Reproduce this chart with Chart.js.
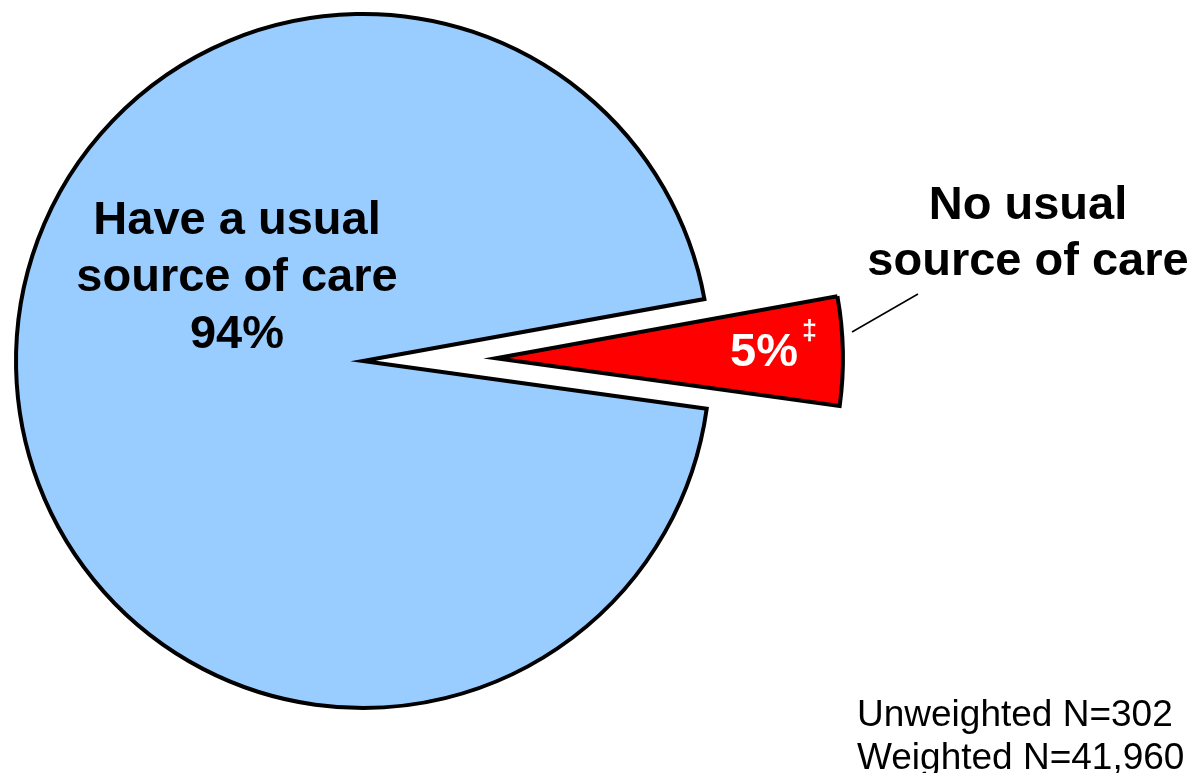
<!DOCTYPE html>
<html>
<head>
<meta charset="utf-8">
<script src="https://cdn.jsdelivr.net/npm/chart.js@4.4.1/dist/chart.umd.min.js"></script>
<style>
  html, body { margin: 0; padding: 0; background: #fff; }
  #wrap { width: 1196px; height: 773px; position: relative; overflow: hidden; }
</style>
</head>
<body>
<div id="wrap"><canvas id="pieChart" width="1196" height="773"></canvas></div>
<script>
// chart data
const categories = ['Have a usual source of care', 'No usual source of care'];
const percentValues = [94, 5];
const sliceLabels = [['Have a usual', 'source of care', '94%'], ['5%']];
const footnoteLines = ['Unweighted N=302', 'Weighted N=41,960'];

const FONT = '"Liberation Sans", Arial, Helvetica, sans-serif';
const EXPLODE = 133; // px the small slice is pulled out

// draw arcs ourselves so the small slice can be pulled out without resizing it
const explodePlugin = {
  id: 'explodeSlice',
  beforeDatasetDraw(chart, args) {
    const ctx = chart.ctx;
    const meta = args.meta;
    meta.data.forEach((arc, i) => {
      ctx.save();
      if (i === 1) {
        const mid = (arc.startAngle + arc.endAngle) / 2;
        ctx.translate(Math.cos(mid) * EXPLODE, Math.sin(mid) * EXPLODE);
      }
      arc.draw(ctx);
      ctx.restore();
    });
    return false;
  },
  afterDatasetsDraw(chart) {
    const ctx = chart.ctx;
    const meta = chart.getDatasetMeta(0);
    const big = meta.data[0];
    const cx = big.x, cy = big.y;

    ctx.save();
    ctx.fillStyle = '#000';
    ctx.textAlign = 'center';
    ctx.textBaseline = 'alphabetic';
    ctx.font = 'bold 47px ' + FONT;
    // big slice label
    sliceLabels[0].forEach((t, i) => ctx.fillText(t, cx - 126, cy - 127 + i * 57));

    // small slice label
    ctx.fillStyle = '#fff';
    ctx.fillText(sliceLabels[1][0], cx + 401, cy + 5);
    ctx.font = 'bold 27px ' + FONT;
    ctx.textAlign = 'left';
    ctx.fillText('\u2021', cx + 439, cy - 22);

    // outside label + leader line
    ctx.fillStyle = '#000';
    ctx.textAlign = 'center';
    ctx.font = 'bold 47px ' + FONT;
    ctx.fillText('No usual', cx + 665, cy - 142);
    ctx.fillText('source of care', cx + 665, cy - 86);
    ctx.strokeStyle = '#000';
    ctx.lineWidth = 1.5;
    ctx.beginPath();
    ctx.moveTo(cx + 489, cy - 29);
    ctx.lineTo(cx + 555, cy - 67);
    ctx.stroke();

    // footnote
    ctx.textAlign = 'left';
    ctx.font = '37px ' + FONT;
    footnoteLines.forEach((t, i) => ctx.fillText(t, 857, 726 + i * 43));
    ctx.restore();
  }
};

const pieCtx = document.getElementById('pieChart').getContext('2d');
const pieChart = new Chart(pieCtx, {
  type: 'pie',
  data: {
    labels: categories,
    datasets: [
      {
        data: percentValues,
        backgroundColor: ['#99CCFF', '#FF0000'],
        borderColor: '#000000',
        borderWidth: 4,
        borderJoinStyle: 'miter',
      },
    ],
  },
  options: {
    responsive: false,
    animation: false,
    devicePixelRatio: 1,
    radius: 347,
    rotation: 97.9,
    layout: {
      padding: { left: 0, top: 0, right: 470, bottom: 51 },
    },
    plugins: {
      legend: { display: false },
      tooltip: { enabled: false },
    },
  },
  plugins: [explodePlugin],
});
</script>
</body>
</html>
